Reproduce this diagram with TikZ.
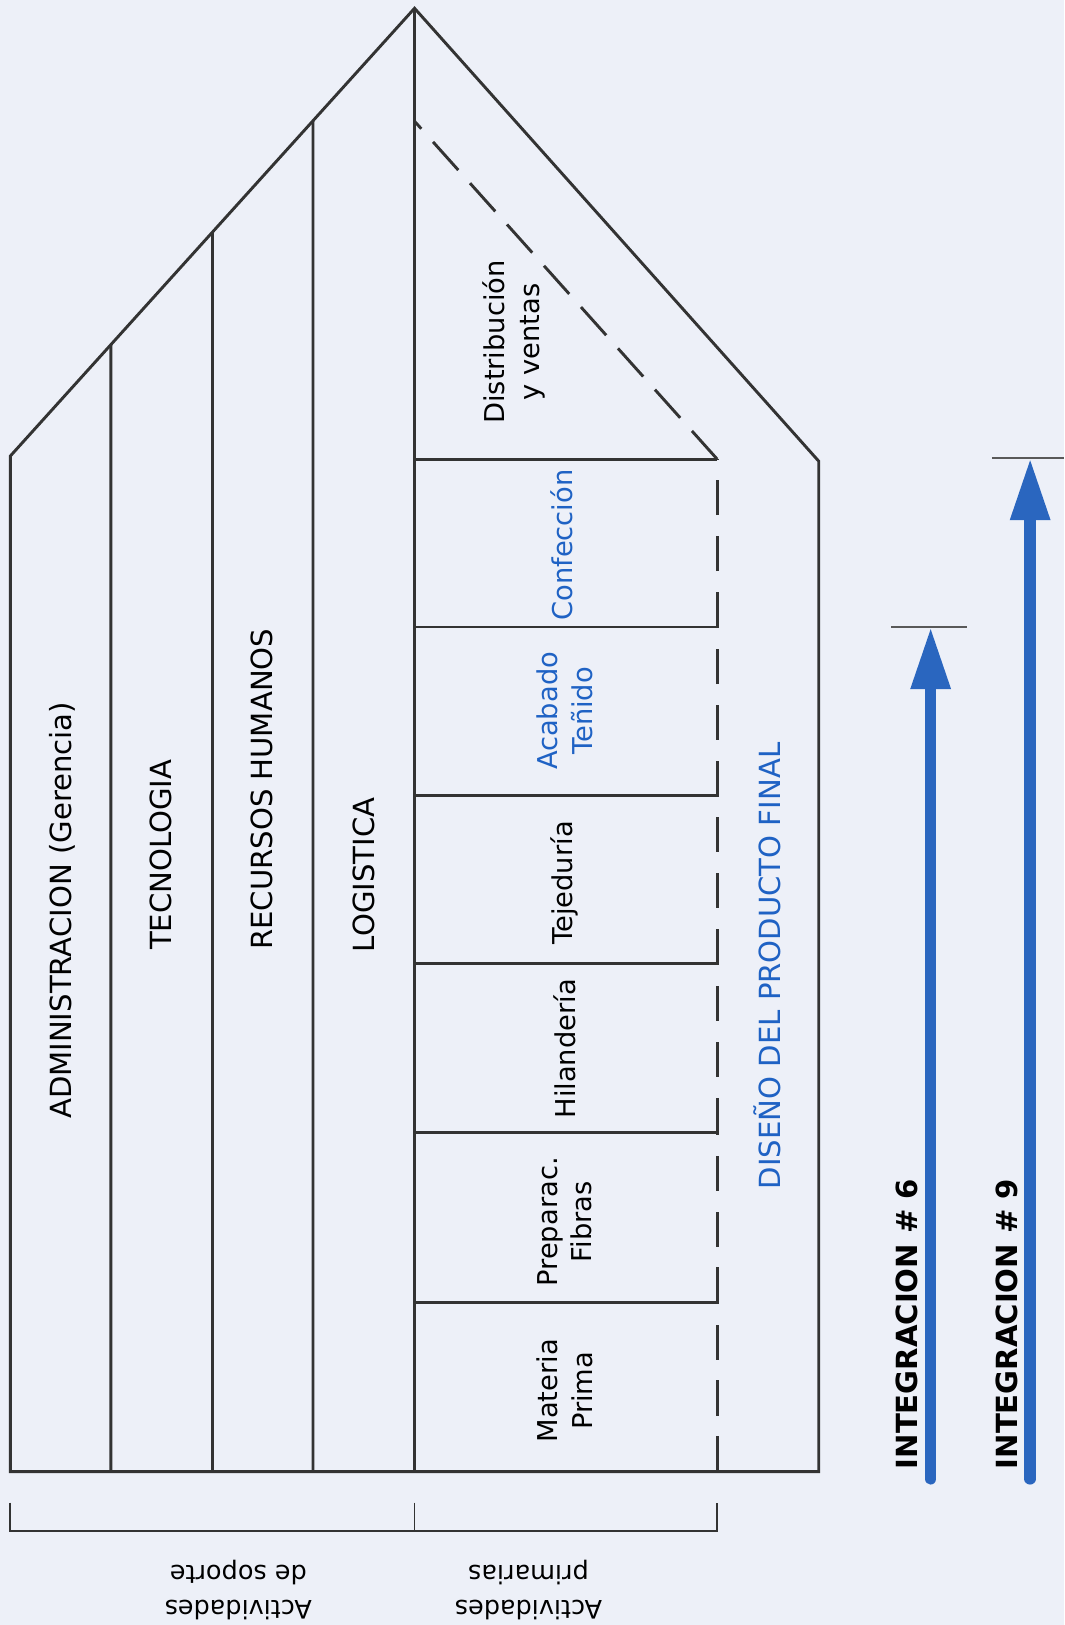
\documentclass[tikz,border=0pt]{standalone}
\usepackage{fontspec}
\setmainfont{DejaVu Sans}
\usetikzlibrary{arrows.meta,calc}
\definecolor{fondo}{HTML}{EDF0F8}
\definecolor{azul}{HTML}{1F62C4}
\definecolor{azulflecha}{HTML}{2A66BF}
\definecolor{linea}{HTML}{333333}

\begin{document}
\begin{tikzpicture}[x=0.02cm, y=-0.02cm,
    muro/.style={draw=linea, line width=1.6pt},
    rayas/.style={muro, dash pattern=on 0.73cm off 0.34cm},
    tramo/.style={muro, dash pattern=on 0.68cm off 0.4cm},
    texto/.style={rotate=90, inner sep=0pt, font=\fontsize{15}{19}\selectfont, align=center},
    soporte/.style={texto, font=\fontsize{16}{19}\selectfont, anchor=west},
    primaria/.style={texto},
    azulado/.style={texto, text=azul},
    integra/.style={texto, font=\fontsize{16}{19}\selectfont\bfseries, anchor=west},
    invertido/.style={rotate=180, inner sep=0pt, font=\fontsize{14}{19}\selectfont, align=center},
    flecha/.style={draw=azulflecha, line width=0.22cm, line cap=round, -{Triangle[length=1.2cm, width=0.72cm]}},
    tope/.style={draw=gray!70!black, line width=0.9pt}
  ]
    \fill[fondo] (0,0) rectangle (1027,1568);
    \useasboundingbox (0,0) rectangle (1027,1568);

    \coordinate (cumbre) at (400,8);
    \coordinate (aleroizq) at (10,440);
    \coordinate (aleroder) at (790,445);
    \coordinate (baseizq) at (10,1420);
    \coordinate (baseder) at (790,1420);
    \coordinate (centro) at (400,1420);

    \draw[muro] (baseizq) -- (aleroizq) -- (cumbre) -- (aleroder) -- (baseder) -- cycle;
    \foreach \x in {107,205,302}
      \draw[muro] ($(aleroizq)!{(\x-10)/390}!(cumbre)$) -- (\x,1420);
    \draw[muro] (cumbre) -- (centro);

    \foreach \y in {443,605,768,930,1093,1257}
      \draw[muro] (400,\y) -- (692,\y);
    \draw[rayas] (692,443) -- (400,117);
    \foreach \a/\b in {605/443,768/605,930/768,1093/930,1257/1093,1420/1257}
      \draw[tramo] (692,\a) -- (692,\b);

    \draw[muro, line width=1pt] (10,1450) -- (10,1477) -- (692,1477) -- (692,1450);
    \draw[muro, line width=1pt] (400,1450) -- (400,1477);

    \node[soporte] (admin) at (60,1080) {ADMINISTRACION (Gerencia)};
    \node[soporte] (tecno) at (155,917) {TECNOLOGIA};
    \node[soporte] (rrhh) at (253,917) {RECURSOS HUMANOS};
    \node[soporte] (logis) at (351,919) {LOGISTICA};

    \node[primaria] (materia) at (545,1342) {Materia\\Prima};
    \node[primaria] (fibras) at (545,1179) {Preparac.\\Fibras};
    \node[primaria] (hilanderia) at (545,1012) {Hilandería};
    \node[primaria] (tejeduria) at (545,852) {Tejeduría};
    \node[azulado] (acabado) at (545,686) {Acabado\\Teñido};
    \node[azulado] (confeccion) at (542,526) {Confección};
    \node[primaria] (distribucion) at (496,330) {Distribución\\y ventas};
    \node[azulado, font=\fontsize{16}{19}\selectfont] (diseno) at (740,932) {DISEÑO DEL PRODUCTO FINAL};

    \node[integra] (int6) at (875,1418) {INTEGRACION \# 6};
    \node[integra] (int9) at (972,1418) {INTEGRACION \# 9};

    \coordinate (i6ini) at (898,1427);
    \coordinate (i6fin) at (898,605);
    \coordinate (i9ini) at (994,1427);
    \coordinate (i9fin) at (994,442);
    \draw[tope] (860,605) -- (933,605);
    \draw[tope] (957,442) -- (1027,442);
    \draw[flecha] (i6ini) -- (i6fin);
    \draw[flecha] (i9ini) -- (i9fin);

    \node[invertido] (soporte) at (230,1534) {Actividades\\de soporte};
    \node[invertido] (primarias) at (510,1534) {Actividades\\primarias};
  \end{tikzpicture}
\end{document}
